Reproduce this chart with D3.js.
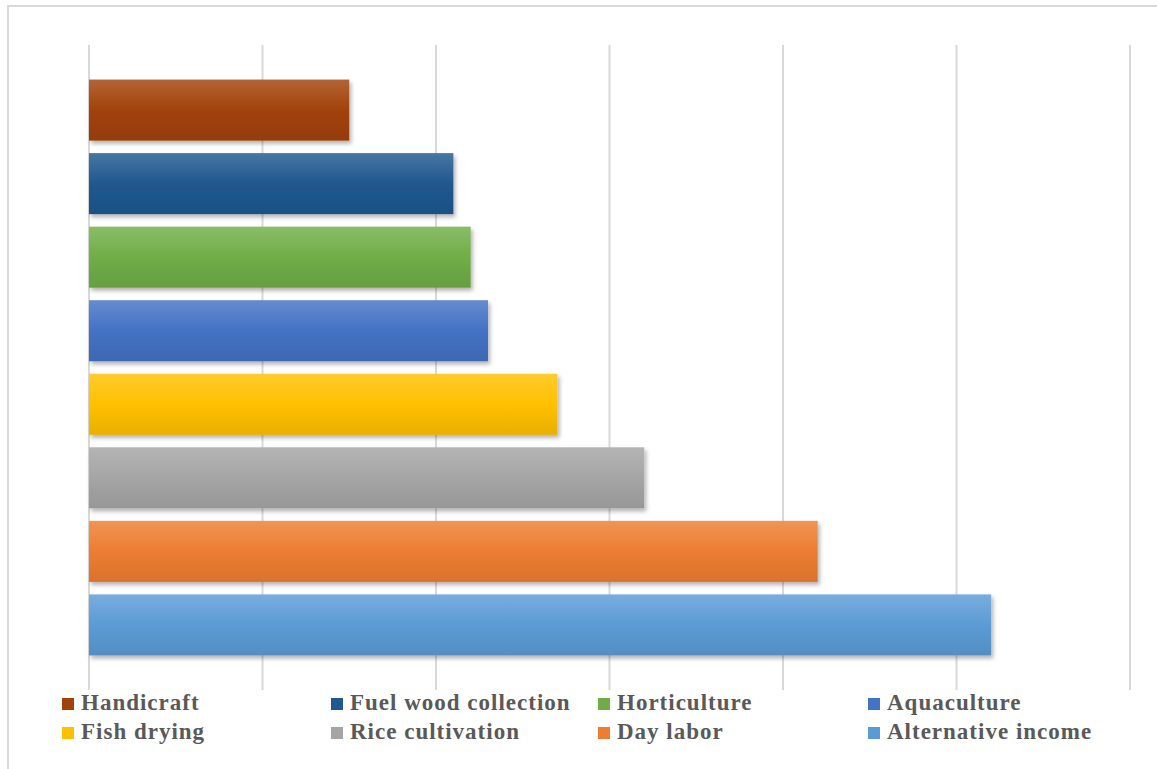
<!DOCTYPE html>
<html lang="en">
<head>
    <meta charset="UTF-8">
    <title>Income sources</title>
    <script src="https://d3js.org/d3.v7.min.js"></script>
    <style>
        body {
            margin: 0;
            background: #fff;
        }
        .legend text {
            font-family: "Liberation Serif", "Times New Roman", serif;
            font-weight: bold;
            font-size: 23px;
            letter-spacing: 1px;
            fill: #595959;
        }
    </style>
</head>
<body>
    <div id="chart"></div>

    <script>
        // Data (top to bottom)
        const categories = ["Handicraft", "Fuel wood collection", "Horticulture", "Aquaculture",
            "Fish drying", "Rice cultivation", "Day labor", "Alternative income"];
        const values = [15, 21, 22, 23, 27, 32, 42, 52];
        const barColors = ["#a2420a", "#20588f", "#70ad47", "#4472c4",
            "#ffc000", "#a5a5a5", "#ed7d31", "#5b9bd5"];
        const gridTicks = [0, 10, 20, 30, 40, 50, 60];

        const W = 1157, H = 769;

        const svg = d3.select("#chart")
            .append("svg")
            .attr("width", W)
            .attr("height", H);

        const defs = svg.append("defs");

        // soft shadow under the bars
        const shadow = defs.append("filter")
            .attr("id", "shadow")
            .attr("x", "-5%").attr("y", "-20%")
            .attr("width", "115%").attr("height", "150%");
        shadow.append("feDropShadow")
            .attr("dx", 2).attr("dy", 3)
            .attr("stdDeviation", 2)
            .attr("flood-color", "#000")
            .attr("flood-opacity", 0.3);

        // gradients, lighter at the top
        barColors.forEach((c, i) => {
            const g = defs.append("linearGradient")
                .attr("id", "grad" + i)
                .attr("x1", 0).attr("y1", 0)
                .attr("x2", 0).attr("y2", 1);
            g.append("stop").attr("offset", "0%")
                .attr("stop-color", d3.interpolateRgb(c, "#fff")(0.18));
            g.append("stop").attr("offset", "50%").attr("stop-color", c);
            g.append("stop").attr("offset", "100%")
                .attr("stop-color", d3.color(c).darker(0.25));
        });

        // chart frame (only top/left edge visible)
        svg.append("rect")
            .attr("x", 8).attr("y", 6)
            .attr("width", W + 20).attr("height", H + 20)
            .attr("fill", "none")
            .attr("stroke", "#d9d9d9")
            .attr("stroke-width", 2);

        // Scales
        const x = d3.scaleLinear()
            .domain([0, 60])
            .range([89, 1130]);

        const y = d3.scaleBand()
            .domain(categories)
            .range([45, 690])
            .paddingInner(0.17)
            .paddingOuter(0.47);

        // vertical gridlines
        svg.append("g")
            .selectAll("line")
            .data(gridTicks)
            .enter()
            .append("line")
            .attr("x1", d => x(d))
            .attr("x2", d => x(d))
            .attr("y1", 45)
            .attr("y2", 690)
            .attr("stroke", "#d9d9d9")
            .attr("stroke-width", 2);

        // bars
        svg.append("g")
            .selectAll("rect")
            .data(categories)
            .enter()
            .append("rect")
            .attr("x", x(0))
            .attr("y", d => y(d))
            .attr("width", (d, i) => x(values[i]) - x(0))
            .attr("height", y.bandwidth())
            .attr("fill", (d, i) => `url(#grad${i})`)
            .attr("filter", "url(#shadow)");

        // legend: two rows of four
        const legendCols = [62, 331, 598, 868];
        const legendRows = [698, 727];
        const legend = svg.append("g").attr("class", "legend");

        categories.forEach((key, i) => {
            const lx = legendCols[i % 4];
            const ly = legendRows[Math.floor(i / 4)];
            legend.append("rect")
                .attr("x", lx)
                .attr("y", ly)
                .attr("width", 12)
                .attr("height", 12)
                .attr("fill", barColors[i]);
            legend.append("text")
                .attr("x", lx + 19)
                .attr("y", ly + 12)
                .text(key);
        });
    </script>
</body>
</html>
